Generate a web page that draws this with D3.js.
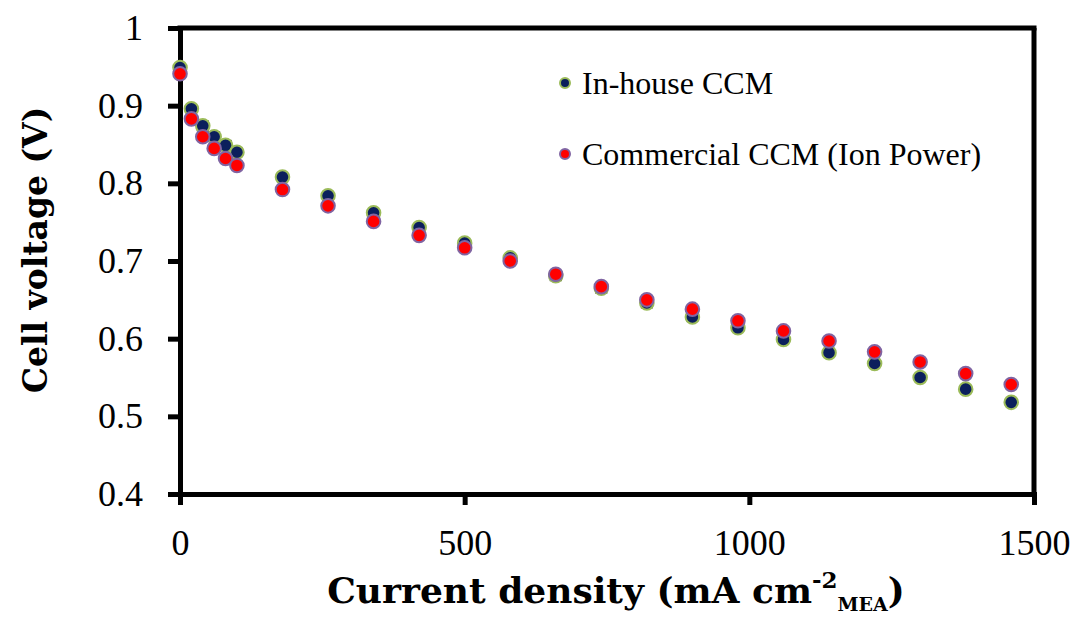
<!DOCTYPE html>
<html>
<head>
<meta charset="utf-8">
<script src="https://cdn.jsdelivr.net/npm/d3@7"></script>
<style>
  html, body { margin: 0; padding: 0; background: #fff; }
  svg { display: block; }
  text { font-family: "Liberation Serif", "DejaVu Serif", serif; fill: #000; }
  .title { font-family: "DejaVu Serif", "Liberation Serif", serif; font-weight: bold; }
</style>
</head>
<body>
<svg id="chart" width="1078" height="620"></svg>
<script>
// Polarisation curves: current density (mA cm-2) vs cell voltage (V)
const currentDensity = [0, 20, 40, 60, 80, 100, 180, 260, 340, 420, 500, 580, 660, 740, 820, 900, 980, 1060, 1140, 1220, 1300, 1380, 1460];
const inHouseVoltage = [0.949, 0.896, 0.874, 0.860, 0.849, 0.840, 0.808, 0.784, 0.762, 0.743, 0.723, 0.704, 0.681, 0.665, 0.646, 0.628, 0.614, 0.599, 0.582, 0.568, 0.550, 0.535, 0.518];
const commercialVoltage = [0.941, 0.883, 0.860, 0.845, 0.832, 0.823, 0.792, 0.771, 0.751, 0.733, 0.717, 0.700, 0.683, 0.667, 0.650, 0.638, 0.623, 0.610, 0.597, 0.583, 0.570, 0.555, 0.541];
const inHouseError = [0.003, 0.004, 0.006, 0.006, 0.006, 0.005, 0.004, 0.004, 0.004, 0.004, 0.004, 0.004, 0.006, 0.006, 0.006, 0.005, 0.004, 0.003, 0.003, 0.003, 0.003, 0.003, 0.003];
const xTicks = [0, 500, 1000, 1500];
const yTicks = [0.4, 0.5, 0.6, 0.7, 0.8, 0.9, 1];
const seriesNames = ["In-house CCM", "Commercial CCM (Ion Power)"];

const svg = d3.select("#chart");
const plotLeft = 180, plotRight = 1034, plotTop = 28, plotBottom = 494;

const x = d3.scaleLinear().domain([0, 1500]).range([plotLeft, plotRight]);
const y = d3.scaleLinear().domain([0.4, 1]).range([plotBottom, plotTop]);

const styles = [
  { fill: "#0b1f5c", stroke: "#9bbb59" },
  { fill: "#ff0000", stroke: "#8064a2" }
];

// Axes
const xAxis = svg.append("g")
  .attr("transform", `translate(0,${plotBottom})`)
  .call(d3.axisBottom(x).tickValues(xTicks).tickFormat(d3.format("d")).tickSize(11).tickPadding(24));
const yAxis = svg.append("g")
  .attr("transform", `translate(${plotLeft},0)`)
  .call(d3.axisLeft(y).tickValues(yTicks).tickFormat(d => String(d)).tickSize(12).tickPadding(25));
[xAxis, yAxis].forEach(g => {
  g.select(".domain").attr("stroke", "#000").attr("stroke-width", 5);
  g.selectAll(".tick line").attr("stroke", "#000").attr("stroke-width", 5);
  g.selectAll(".tick text").style("font-size", "36px").attr("fill", "#000");
});

// Top and right frame lines
svg.append("line").attr("x1", x(0) - 2.5).attr("x2", x(1500) + 2.5).attr("y1", y(1)).attr("y2", y(1))
  .attr("stroke", "#000").attr("stroke-width", 5);
svg.append("line").attr("x1", x(1500)).attr("x2", x(1500)).attr("y1", y(1)).attr("y2", y(0.4))
  .attr("stroke", "#000").attr("stroke-width", 5);

// Error bars for the in-house series
const errG = svg.append("g");
currentDensity.forEach((c, i) => {
  const e = inHouseError[i];
  const cx = x(c);
  errG.append("line").attr("x1", cx).attr("x2", cx)
    .attr("y1", y(inHouseVoltage[i] - e)).attr("y2", y(inHouseVoltage[i] + e))
    .attr("stroke", "#000").attr("stroke-width", 1.5);
  [inHouseVoltage[i] - e, inHouseVoltage[i] + e].forEach(v => {
    errG.append("line").attr("x1", cx - 6).attr("x2", cx + 6).attr("y1", y(v)).attr("y2", y(v))
      .attr("stroke", "#000").attr("stroke-width", 1.5);
  });
});

// Markers
[inHouseVoltage, commercialVoltage].forEach((vals, s) => {
  svg.append("g").selectAll("circle")
    .data(vals)
    .join("circle")
    .attr("cx", (d, i) => x(currentDensity[i]))
    .attr("cy", d => y(d))
    .attr("r", 6.8)
    .attr("fill", styles[s].fill)
    .attr("stroke", styles[s].stroke)
    .attr("stroke-width", 2);
});

// Legend
const legendY = [83, 154];
seriesNames.forEach((name, s) => {
  svg.append("circle").attr("cx", 565).attr("cy", legendY[s]).attr("r", 5)
    .attr("fill", styles[s].fill).attr("stroke", styles[s].stroke).attr("stroke-width", 2);
  svg.append("text").attr("x", 582).attr("y", legendY[s] + 11)
    .style("font-size", "32px").text(name);
});

// Axis titles
svg.append("text")
  .attr("class", "title")
  .attr("transform", `translate(47,250) rotate(-90)`)
  .attr("text-anchor", "middle")
  .style("font-size", "33px")
  .text("Cell voltage (V)");

const xt = svg.append("text")
  .attr("class", "title")
  .attr("x", 616).attr("y", 603)
  .attr("text-anchor", "middle")
  .style("font-size", "36px");
xt.append("tspan").text("Current density (mA cm");
xt.append("tspan").attr("dy", -15).style("font-size", "23px").text("-2");
xt.append("tspan").attr("dy", 23).style("font-size", "19px").text("MEA");
xt.append("tspan").attr("dy", -8).text(")");
</script>
</body>
</html>
